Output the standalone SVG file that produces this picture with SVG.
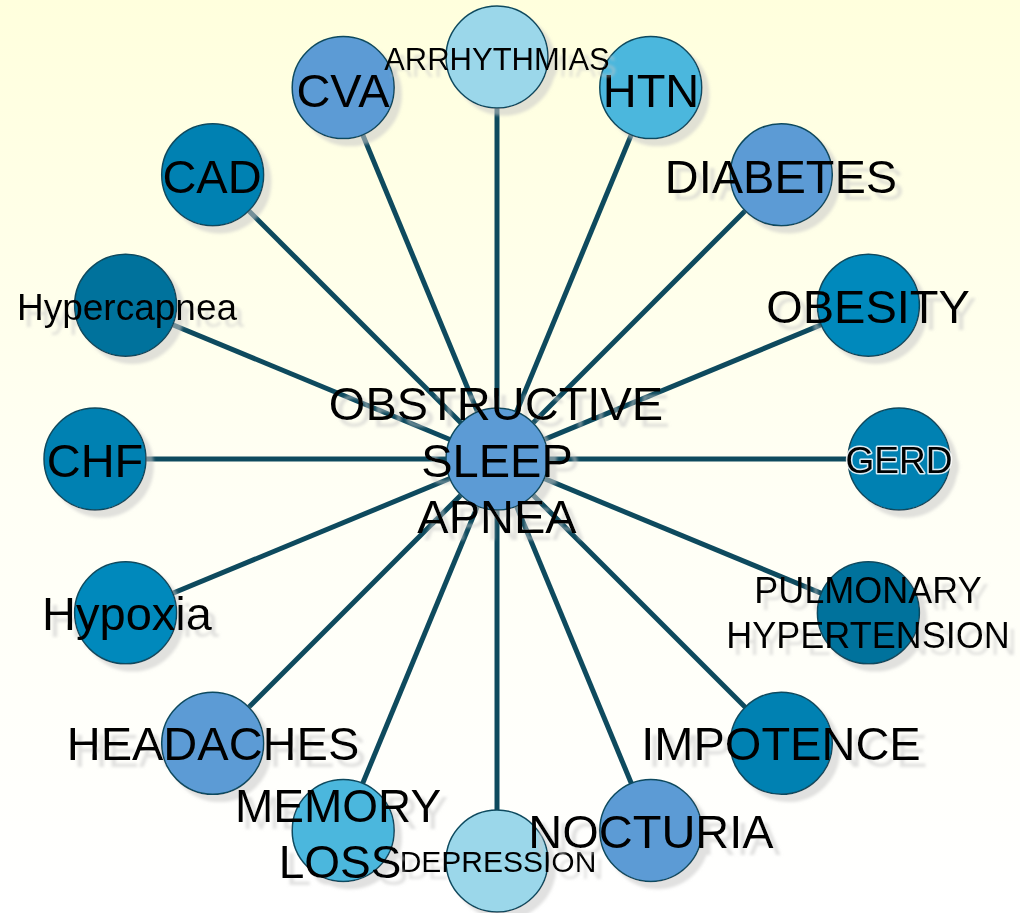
<svg xmlns="http://www.w3.org/2000/svg" width="1020" height="913" viewBox="0 0 1020 913">
<defs>
<linearGradient id="bg" x1="0" y1="0" x2="0" y2="1">
<stop offset="0" stop-color="#FFFFDD"/>
<stop offset="0.55" stop-color="#FFFFF5"/>
<stop offset="1" stop-color="#FFFFFF"/>
</linearGradient>
<filter id="sh" x="-30%" y="-30%" width="170%" height="170%">
<feGaussianBlur in="SourceAlpha" stdDeviation="1.8" result="b"/>
<feOffset in="b" dx="7" dy="7" result="o"/>
<feFlood flood-color="#C8C8C8" flood-opacity="0.55"/>
<feComposite in2="o" operator="in" result="s"/>
<feMerge><feMergeNode in="s"/><feMergeNode in="SourceGraphic"/></feMerge>
</filter>
<style>
.n{stroke:#0E4A5E;stroke-width:1.5}
.c1{fill:#5B9BD5}
.c2{fill:#9BD7EA}
.c3{fill:#4CB7DD}
.c4{fill:#0089BC}
.c5{fill:#0081B2}
.c6{fill:#00729C}
text{font-family:"Liberation Sans",Arial,sans-serif;fill:#000;text-anchor:middle}
.big{font-size:47px}
.glow{stroke:#FFFFFF;stroke-width:3;stroke-opacity:0.85;paint-order:stroke;stroke-linejoin:round}
#connectors line{stroke:#0E4A5E;stroke-width:5}
</style>
</defs>
<rect x="0" y="0" width="1020" height="913" fill="url(#bg)"/>
<g id="connectors">
<line x1="497" y1="459" x2="497" y2="57"/>
<line x1="497" y1="459" x2="650.8" y2="87.6"/>
<line x1="497" y1="459" x2="781.3" y2="174.7"/>
<line x1="497" y1="459" x2="868.4" y2="305.2"/>
<line x1="497" y1="459" x2="899" y2="459"/>
<line x1="497" y1="459" x2="868.4" y2="612.8"/>
<line x1="497" y1="459" x2="781.3" y2="743.3"/>
<line x1="497" y1="459" x2="650.8" y2="830.4"/>
<line x1="497" y1="459" x2="497" y2="861"/>
<line x1="497" y1="459" x2="343.2" y2="830.4"/>
<line x1="497" y1="459" x2="212.7" y2="743.3"/>
<line x1="497" y1="459" x2="125.6" y2="612.8"/>
<line x1="497" y1="459" x2="95" y2="459"/>
<line x1="497" y1="459" x2="125.6" y2="305.2"/>
<line x1="497" y1="459" x2="212.7" y2="174.7"/>
<line x1="497" y1="459" x2="343.2" y2="87.6"/>
</g>
<g id="node-cva" filter="url(#sh)"><circle class="n c1" cx="343.2" cy="87.6" r="51"/><text class="big" x="343" y="107">CVA</text></g>
<g id="node-htn" filter="url(#sh)"><circle class="n c3" cx="650.8" cy="87.6" r="51"/><text class="big" x="651" y="107">HTN</text></g>
<g id="node-diabetes" filter="url(#sh)"><circle class="n c1" cx="781.3" cy="174.7" r="51"/><text class="big" x="781" y="193">DIABETES</text></g>
<g id="node-obesity" filter="url(#sh)"><circle class="n c4" cx="868.4" cy="305.2" r="51"/><text class="big" x="868" y="323">OBESITY</text></g>
<g id="node-gerd" filter="url(#sh)"><circle class="n c5" cx="899" cy="459" r="51"/><text class="glow" x="899" y="473" font-size="37">GERD</text></g>
<g id="node-pulmonary-hypertension" filter="url(#sh)"><circle class="n c6" cx="868.4" cy="612.8" r="51"/><text x="868" y="603" font-size="36">PULMONARY</text><text x="868" y="648" font-size="36">HYPERTENSION</text></g>
<g id="node-impotence" filter="url(#sh)"><circle class="n c5" cx="781.3" cy="743.3" r="51"/><text class="big" x="781" y="760">IMPOTENCE</text></g>
<g id="node-depression" filter="url(#sh)"><circle class="n c2" cx="497" cy="861" r="51"/><text x="498" y="872" font-size="30">DEPRESSION</text></g>
<g id="node-nocturia" filter="url(#sh)"><circle class="n c1" cx="650.8" cy="830.4" r="51"/><text class="big" x="651" y="848">NOCTURIA</text></g>
<g id="node-headaches" filter="url(#sh)"><circle class="n c1" cx="212.7" cy="743.3" r="51"/><text class="big" x="213" y="760">HEADACHES</text></g>
<g id="node-memory-loss" filter="url(#sh)"><circle class="n c3" cx="343.2" cy="830.4" r="51"/><text x="338" y="822" font-size="46">MEMORY</text><text x="340" y="878" font-size="46">LOSS</text></g>
<g id="node-hypoxia" filter="url(#sh)"><circle class="n c4" cx="125.6" cy="612.8" r="51"/><text class="big" x="127" y="630">Hypoxia</text></g>
<g id="node-chf" filter="url(#sh)"><circle class="n c5" cx="95" cy="459" r="51"/><text class="big" x="95" y="477">CHF</text></g>
<g id="node-hypercapnea" filter="url(#sh)"><circle class="n c6" cx="125.6" cy="305.2" r="51"/><text x="127" y="320" font-size="37">Hypercapnea</text></g>
<g id="node-cad" filter="url(#sh)"><circle class="n c5" cx="212.7" cy="174.7" r="51"/><text class="big" x="212" y="193">CAD</text></g>
<g id="node-arrhythmias" filter="url(#sh)"><circle class="n c2" cx="497" cy="57" r="51"/><text x="497" y="70" font-size="31">ARRHYTHMIAS</text></g>
<g id="node-osa" filter="url(#sh)"><circle class="n c1" cx="497" cy="459" r="51"/><text class="big" x="496" y="420">OBSTRUCTIVE</text><text class="big" x="497" y="477">SLEEP</text><text class="big" x="497" y="533">APNEA</text></g>
</svg>
